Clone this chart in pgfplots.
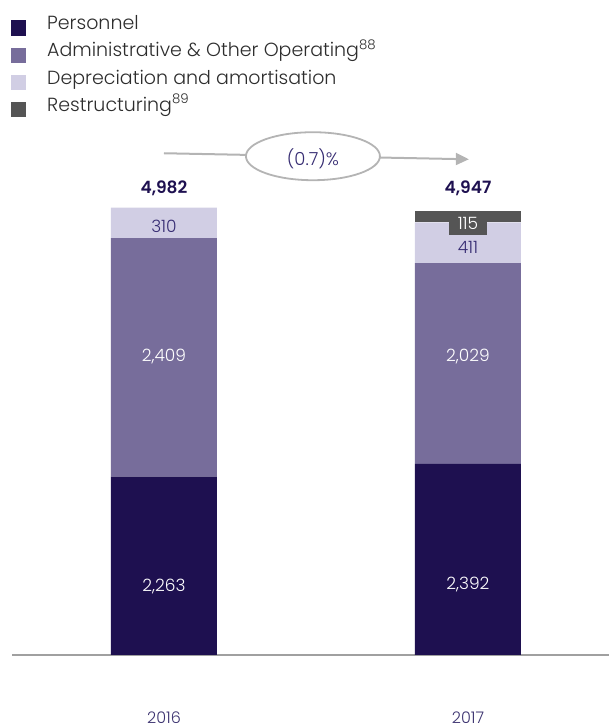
\documentclass[border=0pt]{standalone}
\usepackage{fontspec}
\setmainfont{Poppins}[UprightFont={* Light}, BoldFont={* SemiBold}]
\usepackage{pgfplots}
\pgfplotsset{compat=1.18}
\usetikzlibrary{arrows.meta}

\definecolor{pers}{RGB}{30,16,80}
\definecolor{admin}{RGB}{119,109,155}
\definecolor{depr}{RGB}{209,206,228}
\definecolor{restr}{RGB}{85,85,85}
\definecolor{lblpurple}{RGB}{55,45,115}
\definecolor{yearcol}{RGB}{60,51,112}
\definecolor{linegray}{RGB}{160,160,160}
\definecolor{arrowgray}{RGB}{180,180,180}
\definecolor{txtgray}{RGB}{45,45,45}

\tikzset{seglbl/.style={font=\fontsize{8.5}{10}\selectfont, text depth=0pt, inner sep=0pt}}

\begin{document}
\begin{tikzpicture}
\path[use as bounding box] (0,0) rectangle (304.5pt,363.5pt);
\begin{axis}[
    at={(6pt,36pt)}, anchor=south west,
    width=298.5pt, height=262.5pt, scale only axis,
    ybar stacked, bar width=53pt,
    legend image code/.code={\fill[#1] (0pt,-3.2pt) rectangle (7.6pt,4.4pt);},
    xmin=-0.5, xmax=1.464, ymin=462, ymax=5765,
    axis x line=bottom, axis y line=none,
    x axis line style={-, draw=linegray, line width=1pt},
    xtick={0,1}, xticklabels={2016,2017}, ytick=\empty,
    major tick length=0pt,
    xticklabel style={anchor=center, yshift=-31.5pt, text=yearcol, font=\fontsize{8}{10}\selectfont},
    legend cell align=left,
    legend style={draw=none, fill=none, at={(-0.0017,1.218)}, anchor=north west,
        font=\fontsize{9.5}{12}\selectfont, text=txtgray,
        row sep=0pt, inner sep=0pt, outer sep=0pt,
        nodes={inner sep=0pt, text height=7pt, text depth=6.65pt},
        /tikz/every odd column/.append style={column sep=10.5pt}},
]
\addplot[fill=pers, draw=none] coordinates {(0,2263) (1,2392)};
\addplot[fill=admin, draw=none] coordinates {(0,2409) (1,2029)};
\addplot[fill=depr, draw=none] coordinates {(0,310) (1,411)};
\addplot[fill=restr, draw=none] coordinates {(0,0) (1,115)};
\legend{Personnel, Administrative \& Other Operating\textsuperscript{88}, Depreciation and amortisation, Restructuring\textsuperscript{89}}

% anchor points for the annotations drawn after the axis
\coordinate (pA) at (axis cs:0,1169);
\coordinate (aA) at (axis cs:0,3492);
\coordinate (dA) at (axis cs:0,4788);
\coordinate (pB) at (axis cs:1,1189);
\coordinate (aB) at (axis cs:1,3492);
\coordinate (dB) at (axis cs:1,4578);
\coordinate (rB) at (axis cs:1,4823);
\coordinate (tA) at (axis cs:0,5189);
\coordinate (tB) at (axis cs:1,5189);
\coordinate (arS) at (axis cs:0,5530);
\coordinate (arE) at (axis cs:1.003,5469);
\coordinate (elC) at (axis cs:0.49,5500);
\coordinate (elT) at (axis cs:0.49,5470);
\end{axis}

% segment labels
\node[seglbl, text=white] at (pA) {2,263};
\node[seglbl, text=white] at (aA) {2,409};
\node[seglbl, text=lblpurple] at (dA) {310};
\node[seglbl, text=white] at (pB) {2,392};
\node[seglbl, text=white] at (aB) {2,029};
\node[seglbl, text=lblpurple] at (dB) {411};
\node[seglbl, text=white, fill=restr, minimum width=18.7pt, minimum height=11.7pt] at (rB) {115};

% totals
\node[font=\bfseries\fontsize{8.5}{10}\selectfont, text depth=0pt, text=pers] at (tA) {4,982};
\node[font=\bfseries\fontsize{8.5}{10}\selectfont, text depth=0pt, text=pers] at (tB) {4,947};

% change arrow
\draw[arrowgray, line width=1pt, -{Triangle[length=6.5pt,width=6pt]}] (arS) -- (arE);
\draw[arrowgray, line width=0.9pt, fill=white] (elC) ellipse [x radius=33.5pt, y radius=12pt];
\node[font=\fontsize{9}{10}\selectfont, text=lblpurple] at (elT) {(0.7)\%};
\end{tikzpicture}
\end{document}
